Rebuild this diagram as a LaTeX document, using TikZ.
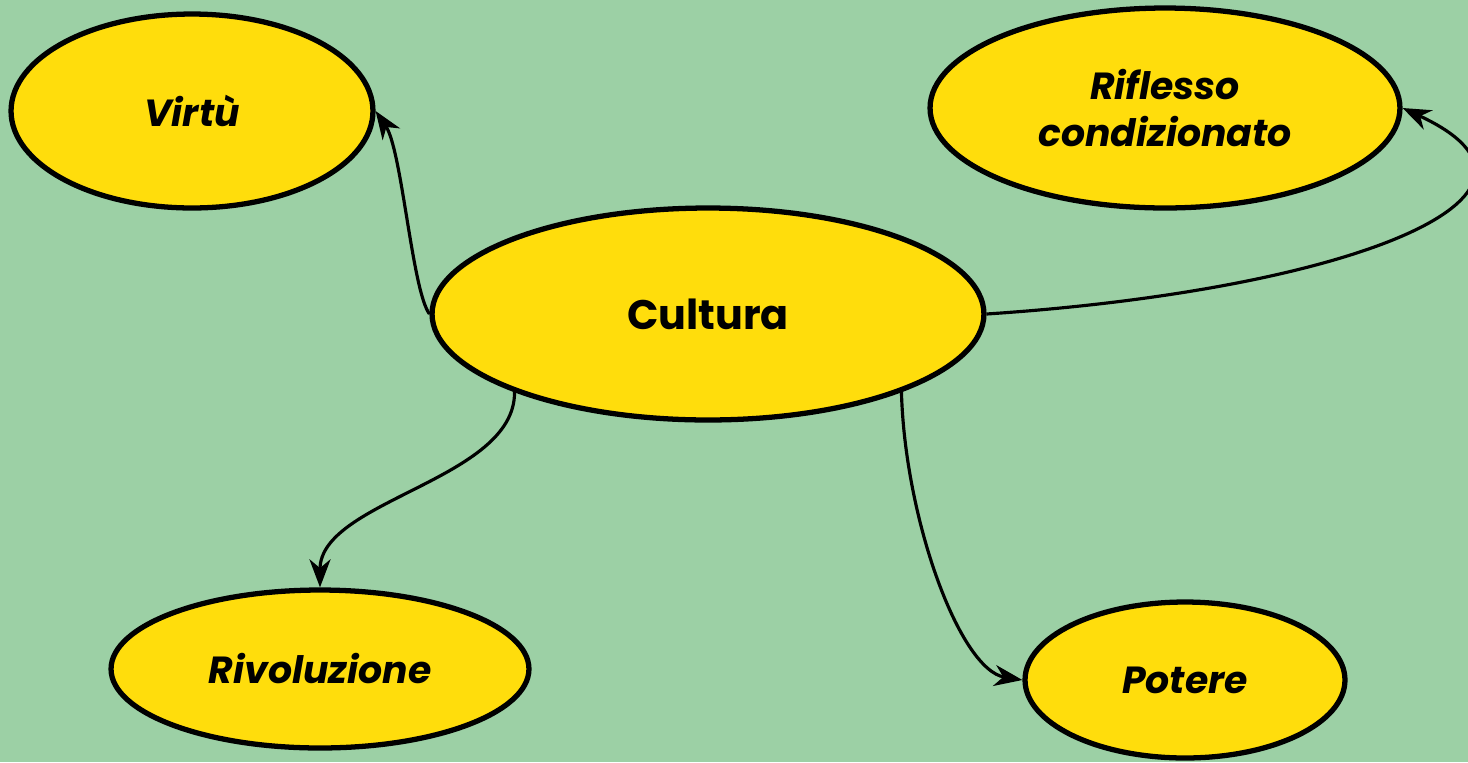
\documentclass[tikz,border=0pt]{standalone}
\usepackage{fontspec}
\setmainfont{Poppins}
\usetikzlibrary{shapes.geometric,arrows.meta}
\definecolor{bggreen}{RGB}{156,208,165}
\definecolor{ideayellow}{RGB}{255,221,12}
\begin{document}
\begin{tikzpicture}[x=0.02cm, y=-0.02cm, >={Stealth[length=16pt,width=12pt,inset=5pt]}]
        \tikzstyle{idea}=[draw, shape=ellipse, fill=ideayellow, line width=3pt, inner sep=0pt,
                          align=center, font=\fontsize{21.5}{27}\selectfont\bfseries\itshape]
        \tikzstyle{link}=[draw, line width=1.8pt]

        \fill[bggreen] (0,0) rectangle (1468,762);
        \useasboundingbox (0,0) rectangle (1468,762);

        \node[idea, minimum width=7.24cm, minimum height=3.88cm](virtu) at (192,111){Virtù};
        \node[idea, minimum width=9.4cm, minimum height=4.0cm](riflesso) at (1165,108){Riflesso\\condizionato};
        \node[idea, minimum width=11.04cm, minimum height=4.24cm, font=\fontsize{23.5}{27}\selectfont\bfseries](cultura) at (708,314){Cultura};
        \node[idea, minimum width=8.36cm, minimum height=3.16cm](rivoluzione) at (320,669){Rivoluzione};
        \node[idea, minimum width=6.4cm, minimum height=3.12cm](potere) at (1185,680){Potere};

        \draw[link,->] (cultura.west) .. controls (412,290) and (402,150) .. (virtu.east);
        \draw[link,->] (cultura.east) .. controls (1350,290) and (1590,195) .. (riflesso.east);
        \draw[link,->] (cultura.202) .. controls (515,480) and (320,500) .. (rivoluzione.north);
        \draw[link,->] (cultura.338) .. controls (905,520) and (960,670) .. (potere.west);

        \end{tikzpicture}
\end{document}
